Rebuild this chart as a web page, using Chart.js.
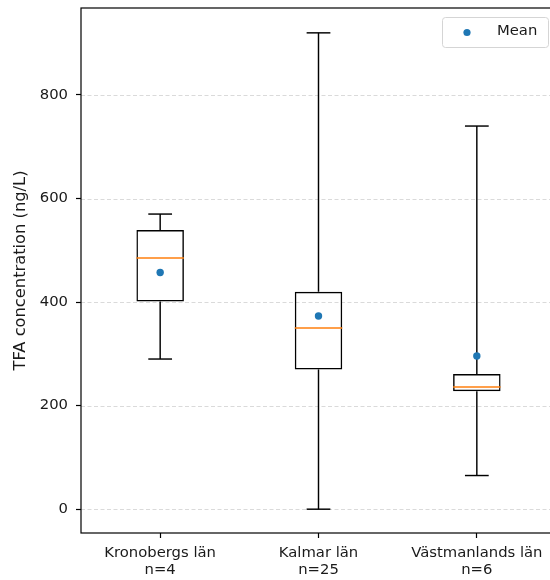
<!DOCTYPE html>
<html lang="en">
<head>
<meta charset="UTF-8" />
<title>TFA concentration per län</title>
<script src="https://cdn.jsdelivr.net/npm/chart.js"></script>
<style>
  html, body { margin: 0; padding: 0; background: #fff; overflow: hidden; }
  canvas { display: block; }
</style>
</head>
<body>
<canvas id="boxChart" width="560" height="580"></canvas>
<script>
  // data
  const categories = [['Kronobergs län', 'n=4'], ['Kalmar län', 'n=25'], ['Västmanlands län', 'n=6']];
  const whiskerLow = [290, 0, 65];
  const q1 = [401, 270, 228];
  const median = [485, 350, 236];
  const q3 = [539, 420, 261];
  const whiskerHigh = [570, 920, 740];
  const means = [457, 373, 296];
  const yTicks = [0, 200, 400, 600, 800];

  const FONT = { family: 'DejaVu Sans', size: 14.8 };
  const LABEL_FONT = { family: 'DejaVu Sans', size: 16.3 };
  const TEXT = '#1a1a1a';
  const LW = 1.45;

  function line(ctx, x1, y1, x2, y2) {
    ctx.beginPath();
    ctx.moveTo(x1, y1);
    ctx.lineTo(x2, y2);
    ctx.stroke();
  }

  // grid, whiskers, medians, frame and legend, all placed through the chart scales
  const boxParts = {
    id: 'boxParts',
    beforeDatasetsDraw(chart) {
      const { ctx, chartArea: a, scales: { x, y } } = chart;
      ctx.save();
      ctx.strokeStyle = '#d0d0d0';
      ctx.lineWidth = 0.8;
      ctx.setLineDash([4, 2.5]);
      yTicks.forEach(v => {
        const py = Math.round(y.getPixelForValue(v)) + 0.5;
        line(ctx, a.left, py, a.right, py);
      });
      ctx.setLineDash([]);

      const meta = chart.getDatasetMeta(0);
      ctx.strokeStyle = '#000';
      ctx.lineWidth = LW;
      categories.forEach((c, i) => {
        const cx = x.getPixelForValue(i);
        const cap = meta.data[i].width / 4;
        const yl = y.getPixelForValue(whiskerLow[i]);
        const yh = y.getPixelForValue(whiskerHigh[i]);
        line(ctx, cx, y.getPixelForValue(q1[i]), cx, yl);
        line(ctx, cx, y.getPixelForValue(q3[i]), cx, yh);
        line(ctx, cx - cap, yl, cx + cap, yl);
        line(ctx, cx - cap, yh, cx + cap, yh);
      });
      ctx.restore();
    },
    afterDatasetsDraw(chart) {
      const { ctx, chartArea: a, scales: { x, y } } = chart;
      const meta = chart.getDatasetMeta(0);
      ctx.save();
      ctx.strokeStyle = '#ff7f0e';
      ctx.lineWidth = LW;
      categories.forEach((c, i) => {
        const cx = x.getPixelForValue(i);
        const half = meta.data[i].width / 2;
        const ym = y.getPixelForValue(median[i]);
        line(ctx, cx - half, ym, cx + half, ym);
      });

      // axes frame
      ctx.strokeStyle = '#000';
      ctx.lineWidth = 1.2;
      ctx.strokeRect(a.left, a.top, a.right - a.left, a.bottom - a.top);

      // legend
      const lw = 106, lh = 30;
      const lx = a.right - 8 - lw, ly = a.top + 9;
      ctx.fillStyle = 'rgba(255,255,255,0.8)';
      ctx.strokeStyle = '#d5d5d5';
      ctx.lineWidth = 1;
      ctx.beginPath();
      ctx.roundRect(lx + 0.5, ly + 0.5, lw, lh, 3);
      ctx.fill();
      ctx.stroke();
      ctx.fillStyle = '#1f77b4';
      ctx.beginPath();
      ctx.arc(lx + 25, ly + 15.5, 3.6, 0, Math.PI * 2);
      ctx.fill();
      ctx.fillStyle = TEXT;
      ctx.font = `${FONT.size}px ${FONT.family}`;
      ctx.textBaseline = 'middle';
      ctx.fillText('Mean', lx + 55, ly + 14);
      ctx.restore();
    }
  };

  new Chart(document.getElementById('boxChart'), {
    data: {
      labels: categories,
      datasets: [
        {
          type: 'bar',
          label: 'Box',
          data: categories.map((c, i) => [q1[i], q3[i]]),
          backgroundColor: 'rgba(255,255,255,0)',
          borderColor: '#000',
          borderWidth: LW,
          borderSkipped: false,
          categoryPercentage: 1,
          barPercentage: 0.3,
          order: 2
        },
        {
          type: 'line',
          label: 'Mean',
          data: means,
          showLine: false,
          pointRadius: 3.7,
          pointBorderWidth: 0,
          pointBackgroundColor: '#1f77b4',
          order: 1
        }
      ]
    },
    options: {
      responsive: false,
      animation: false,
      devicePixelRatio: 1,
      layout: { padding: { top: 8, right: 3, left: 0, bottom: 0 } },
      plugins: { legend: { display: false }, tooltip: { enabled: false } },
      scales: {
        x: {
          type: 'category',
          offset: true,
          grid: { offset: false, drawOnChartArea: false, tickLength: 5, tickColor: '#000', tickWidth: 1.2 },
          border: { display: false },
          ticks: { color: TEXT, font: FONT, padding: 6, maxRotation: 0, autoSkip: false },
          afterFit(s) { s.height = 47; s.paddingLeft = 0; s.paddingRight = 0; }
        },
        y: {
          type: 'linear',
          min: -46,
          max: 968,
          afterBuildTicks(s) { s.ticks = yTicks.map(v => ({ value: v })); },
          grid: { drawOnChartArea: false, tickLength: 5, tickColor: '#000', tickWidth: 1.2 },
          border: { display: false },
          ticks: { color: TEXT, font: FONT, padding: 8 },
          title: { display: true, text: 'TFA concentration (ng/L)', color: TEXT, font: LABEL_FONT, padding: { top: 11, bottom: 0 } },
          afterFit(s) { s.width = 81; s.paddingTop = 0; s.paddingBottom = 0; }
        }
      }
    },
    plugins: [boxParts]
  });
</script>
</body>
</html>
